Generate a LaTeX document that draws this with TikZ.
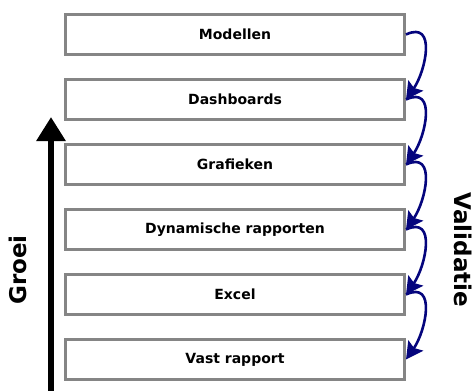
\documentclass[tikz,border=0pt]{standalone}
\usepackage{fontspec}
\setmainfont{DejaVu Sans}
\usetikzlibrary{arrows.meta,positioning}
\definecolor{valblue}{RGB}{5,5,125}

\begin{document}
\begin{tikzpicture}[x=1pt,y=1pt,
  level/.style={draw=black!48,line width=3pt,fill=white,minimum width=339pt,
    minimum height=40pt,inner sep=0pt,font=\fontsize{14}{16}\selectfont\bfseries},
  validate/.style={-{Stealth[length=17pt,width=18pt,inset=3pt]},draw=valblue,
    line width=2.6pt,out=25,in=55,looseness=1.35},
  side/.style={font=\fontsize{23}{26}\selectfont\bfseries}]
  \useasboundingbox (0,0) rectangle (475,-391);
  %draw the levels
  \node [level] (modellen) at (235,-34.5) {Modellen};
  \node [level,below=22pt of modellen] (dashboards) {Dashboards};
  \node [level,below=22pt of dashboards] (grafieken) {Grafieken};
  \node [level,below=22pt of grafieken] (dynamisch) {Dynamische rapporten};
  \node [level,below=22pt of dynamisch] (excel) {Excel};
  \node [level,below=22pt of excel] (vast) {Vast rapport};
  %draw growth arrow
  \coordinate (groeibottom) at (51,-391);
  \coordinate (groeitop) at (51,-117);
  \draw [line width=6pt,-{Triangle[width=28pt,length=24pt]}] (groeibottom) -- (groeitop);
  \node [side,rotate=90] (groei) at (18,-270) {Groei};
  \node [side,rotate=-90] (validatie) at (463,-250) {Validatie};
  %draw validation arrows
  \draw [validate] (modellen.east) to (dashboards.east);
  \draw [validate] (dashboards.east) to (grafieken.east);
  \draw [validate] (grafieken.east) to (dynamisch.east);
  \draw [validate] (dynamisch.east) to (excel.east);
  \draw [validate] (excel.east) to (vast.east);
\end{tikzpicture}
\end{document}
